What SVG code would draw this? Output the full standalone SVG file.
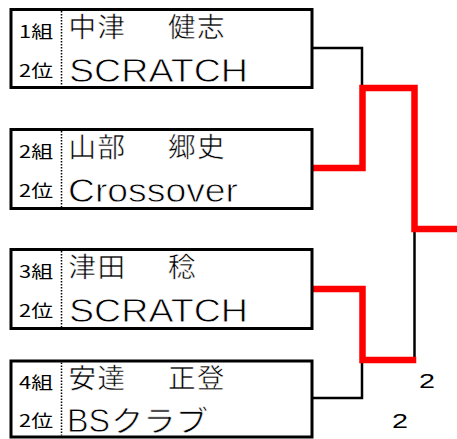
<svg xmlns="http://www.w3.org/2000/svg" width="457" height="439" viewBox="0 0 457 439">
<style>
.box{fill:#fff;stroke:#000;stroke-width:3}
.div{stroke:#000;stroke-width:1.5;stroke-dasharray:1.5 1.5}
.sm{font-family:"Noto Sans CJK JP","Liberation Sans",sans-serif;font-size:17px;fill:#000}
.nm{font-family:"Noto Sans CJK JP",sans-serif;font-size:27.5px;letter-spacing:1.5px;fill:#000;stroke:#fff;stroke-width:0.5}
.lt{font-family:"Liberation Sans","Noto Sans CJK JP",sans-serif;font-size:33px;fill:#000;stroke:#fff;stroke-width:0.8}
.kn{font-family:"Noto Sans CJK JP",sans-serif;font-size:29px;fill:#000;stroke:#fff;stroke-width:0.6}
.sc{font-family:"Liberation Sans",sans-serif;font-size:21px;fill:#000}
.bk{fill:none;stroke:#000;stroke-width:2.5}
.rd{fill:none;stroke:#f00;stroke-width:6.5;stroke-linejoin:miter;stroke-linecap:square}
</style>
<g id="connectors">
<path class="bk" d="M312 48 H362 V88"/>
<path class="bk" d="M312 398 H362 V360"/>
<path class="bk" d="M414.5 230 V360"/>
<path class="rd" d="M312 168 H362.5 V88 H414.5 V229 H460"/>
<path class="rd" d="M312 289 H362.5 V360 H413"/>
</g>
<g id="node1">
<rect class="box" x="11" y="9.5" width="301" height="78"/>
<line class="div" x1="61.5" y1="11" x2="61.5" y2="86"/>
<text class="sm" x="19" y="38" textLength="34" lengthAdjust="spacingAndGlyphs">1組</text>
<text class="sm" x="19" y="76.5" textLength="34" lengthAdjust="spacingAndGlyphs">2位</text>
<text class="nm" x="68.5" y="37">中津</text>
<text class="nm" x="168" y="37">健志</text>
<text class="lt" x="69" y="82" textLength="179" lengthAdjust="spacingAndGlyphs">SCRATCH</text>
</g>
<g id="node2">
<rect class="box" x="11" y="129.5" width="301" height="79"/>
<line class="div" x1="61.5" y1="131" x2="61.5" y2="207"/>
<text class="sm" x="19" y="158" textLength="34" lengthAdjust="spacingAndGlyphs">2組</text>
<text class="sm" x="19" y="196.5" textLength="34" lengthAdjust="spacingAndGlyphs">2位</text>
<text class="nm" x="68.5" y="157">山部</text>
<text class="nm" x="168" y="157">郷史</text>
<text class="lt" x="68" y="202" textLength="170" lengthAdjust="spacingAndGlyphs">Crossover</text>
</g>
<g id="node3">
<rect class="box" x="11" y="249.5" width="301" height="79"/>
<line class="div" x1="61.5" y1="251" x2="61.5" y2="327"/>
<text class="sm" x="19" y="278" textLength="34" lengthAdjust="spacingAndGlyphs">3組</text>
<text class="sm" x="19" y="316.5" textLength="34" lengthAdjust="spacingAndGlyphs">2位</text>
<text class="nm" x="68.5" y="277">津田</text>
<text class="nm" x="168" y="277">稔</text>
<text class="lt" x="69" y="322" textLength="179" lengthAdjust="spacingAndGlyphs">SCRATCH</text>
</g>
<g id="node4">
<rect class="box" x="11" y="361" width="301" height="76"/>
<line class="div" x1="61.5" y1="362.5" x2="61.5" y2="435.5"/>
<text class="sm" x="19" y="389" textLength="34" lengthAdjust="spacingAndGlyphs">4組</text>
<text class="sm" x="19" y="427" textLength="34" lengthAdjust="spacingAndGlyphs">2位</text>
<text class="nm" x="68.5" y="388">安達</text>
<text class="nm" x="168" y="388">正登</text>
<text class="lt" x="67" y="432" textLength="43" lengthAdjust="spacingAndGlyphs">BS</text>
<text class="kn" x="111" y="432" textLength="97" lengthAdjust="spacingAndGlyphs">クラブ</text>
</g>
<g id="scores">
<text class="sc" x="419" y="388" textLength="16" lengthAdjust="spacingAndGlyphs">2</text>
<text class="sc" x="392" y="428" textLength="16" lengthAdjust="spacingAndGlyphs">2</text>
</g>
</svg>
